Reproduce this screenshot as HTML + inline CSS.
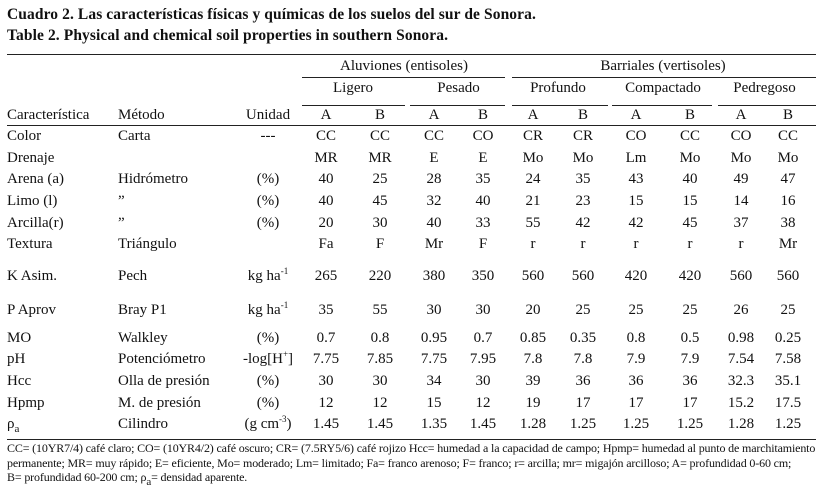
<!DOCTYPE html>
<html><head><meta charset="utf-8">
<style>
body{margin:0;width:824px;height:495px;background:#fff;overflow:hidden;font-family:"Liberation Serif",serif;color:#111;}
#t{position:relative;width:824px;height:495px;}
.c{position:absolute;font-size:15px;line-height:18px;white-space:nowrap;}
.ctr{transform:translateX(-50%);}
.ttl{position:absolute;left:7px;font-weight:bold;font-size:15.5px;letter-spacing:0.1px;}
.rule{position:absolute;height:1px;background:#222;}
.fn{position:absolute;left:7px;font-size:12px;letter-spacing:-0.15px;white-space:nowrap;}
sup{font-size:9px;vertical-align:6px;line-height:0}
sub{font-size:11px;vertical-align:-4px;line-height:0}
</style></head><body>
<div id="t">
<div class="ttl" style="top:6px">Cuadro 2. Las características físicas y químicas de los suelos del sur de Sonora.</div>
<div class="ttl" style="top:27px">Table 2. Physical and chemical soil properties in southern Sonora.</div>
<div class="rule" style="left:7px;width:809px;top:54px"></div>
<div class="c ctr" style="left:404px;top:57px">Aluviones (entisoles)</div>
<div class="c ctr" style="left:663px;top:57px">Barriales (vertisoles)</div>
<div class="rule" style="left:302px;width:203px;top:77px"></div>
<div class="rule" style="left:512px;width:304px;top:77px"></div>
<div class="rule" style="left:7px;width:809px;top:125px"></div>
<div class="rule" style="left:7px;width:809px;top:439px"></div>
<div class="c" style="left:7px;top:106px">Característica</div>
<div class="c" style="left:118px;top:106px">Método</div>
<div class="c ctr" style="left:268px;top:106px">Unidad</div>
<div class="fn" style="top:441px">CC= (10YR7/4) café claro; CO= (10YR4/2) café oscuro; CR= (7.5RY5/6) café rojizo Hcc= humedad a la capacidad de campo; Hpmp= humedad al punto de marchitamiento</div>
<div class="fn" style="top:456px">permanente; MR= muy rápido; E= eficiente, Mo= moderado; Lm= limitado; Fa= franco arenoso; F= franco; r= arcilla; mr= migajón arcilloso; A= profundidad 0-60 cm;</div>
<div class="fn" style="top:470px">B= profundidad 60-200 cm; ρ<sub>a</sub>= densidad aparente.</div>
</div>
<script>
const groups=["Ligero","Pesado","Profundo","Compactado","Pedregoso"];
const rowLabels=["Color","Drenaje","Arena (a)","Limo (l)","Arcilla(r)","Textura","K Asim.","P Aprov","MO","pH","Hcc","Hpmp","ρ<sub>a</sub>"];
const methods=["Carta","","Hidrómetro","”","”","Triángulo","Pech","Bray P1","Walkley","Potenciómetro","Olla de presión","M. de presión","Cilindro"];
const units=["---","","(%)","(%)","(%)","","kg ha<sup>-1</sup>","kg ha<sup>-1</sup>","(%)","-log[H<sup>+</sup>]","(%)","(%)","(g cm<sup>-3</sup>)"];
const values=[
["CC","CC","CC","CO","CR","CR","CO","CC","CO","CC"],
["MR","MR","E","E","Mo","Mo","Lm","Mo","Mo","Mo"],
["40","25","28","35","24","35","43","40","49","47"],
["40","45","32","40","21","23","15","15","14","16"],
["20","30","40","33","55","42","42","45","37","38"],
["Fa","F","Mr","F","r","r","r","r","r","Mr"],
["265","220","380","350","560","560","420","420","560","560"],
["35","55","30","30","20","25","25","25","26","25"],
["0.7","0.8","0.95","0.7","0.85","0.35","0.8","0.5","0.98","0.25"],
["7.75","7.85","7.75","7.95","7.8","7.8","7.9","7.9","7.54","7.58"],
["30","30","34","30","39","36","36","36","32.3","35.1"],
["12","12","15","12","19","17","17","17","15.2","17.5"],
["1.45","1.45","1.35","1.45","1.28","1.25","1.25","1.25","1.28","1.25"]];
const colX=[326,380,434,483,533,583,636,690,741,788];
const rowY=[127,149,170,192,214,235,267,301,329,350,372,394,415];
const groupRule=[[302,103],[410,95],[512,96],[612,100],[718,98]];
const T=document.getElementById('t');
function mk(cls,html,x,y){const d=document.createElement('div');d.className=cls;d.innerHTML=html;d.style.left=x+'px';d.style.top=y+'px';T.appendChild(d);return d;}
groups.forEach((g,i)=>{
  const e=mk('c ctr',g,(colX[2*i]+colX[2*i+1])/2,79);
  
  
  const r=mk('rule','',groupRule[i][0],105);r.style.width=groupRule[i][1]+'px';
  
  
  ['A','B'].forEach((h,j)=>{const s=mk('c ctr',h,colX[2*i+j],106);
    
    });
});
rowLabels.forEach((lab,r)=>{
  const y=rowY[r];
  const a=mk('c',lab,7,y);
  
  
  if(methods[r]){const m=mk('c',methods[r],118,y);
    
    }
  if(units[r]){const u=mk('c ctr',units[r],268,y);
    
    }
  values[r].forEach((v,k)=>{const c=mk('c ctr',v,colX[k],y);
    
    });
});
</script>
</body></html>
